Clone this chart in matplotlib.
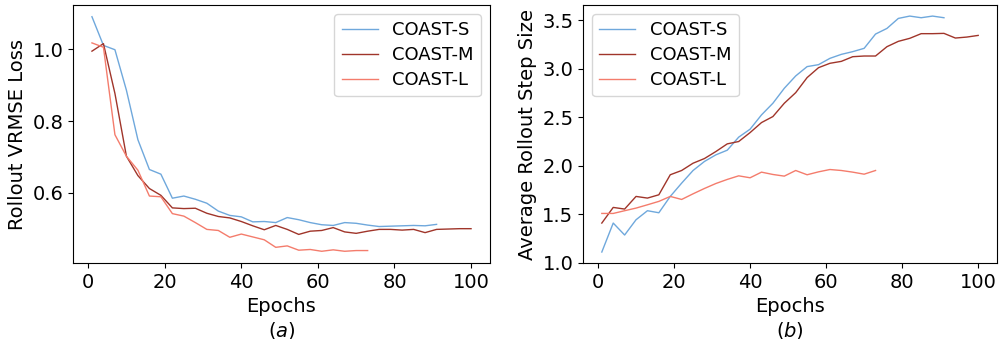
import matplotlib
matplotlib.use("Agg")
import matplotlib.pyplot as plt

# ----------------------------
# Data
# ----------------------------
epochs_s = list(range(1, 92, 3))
epochs_m = list(range(1, 101, 3))
epochs_l = list(range(1, 74, 3))

loss_s = [1.091, 1.011, 0.999, 0.886, 0.748, 0.665, 0.652, 0.585, 0.591, 0.582,
          0.571, 0.549, 0.537, 0.533, 0.519, 0.520, 0.517, 0.531, 0.525, 0.517,
          0.511, 0.509, 0.517, 0.515, 0.510, 0.506, 0.507, 0.508, 0.509, 0.508,
          0.512]
loss_m = [0.995, 1.016, 0.877, 0.702, 0.648, 0.612, 0.593, 0.558, 0.556, 0.557,
          0.543, 0.534, 0.530, 0.520, 0.508, 0.497, 0.509, 0.498, 0.484, 0.493,
          0.495, 0.503, 0.491, 0.487, 0.493, 0.498, 0.498, 0.496, 0.498, 0.489,
          0.498, 0.499, 0.500, 0.500]
loss_l = [1.018, 1.006, 0.762, 0.702, 0.663, 0.591, 0.589, 0.542, 0.535, 0.517,
          0.498, 0.495, 0.476, 0.485, 0.477, 0.469, 0.448, 0.452, 0.440, 0.442,
          0.437, 0.441, 0.437, 0.439, 0.439]

step_s = [1.113, 1.411, 1.288, 1.445, 1.538, 1.517, 1.685, 1.822, 1.952, 2.045,
          2.113, 2.161, 2.295, 2.377, 2.524, 2.644, 2.798, 2.925, 3.021, 3.041,
          3.106, 3.147, 3.175, 3.209, 3.356, 3.414, 3.517, 3.541, 3.524, 3.541,
          3.524]
step_m = [1.411, 1.572, 1.555, 1.685, 1.668, 1.702, 1.908, 1.952, 2.027, 2.075,
          2.147, 2.226, 2.250, 2.342, 2.445, 2.507, 2.644, 2.753, 2.908, 3.010,
          3.055, 3.075, 3.123, 3.130, 3.130, 3.226, 3.281, 3.312, 3.360, 3.360,
          3.363, 3.315, 3.325, 3.342]
step_l = [1.510, 1.510, 1.538, 1.565, 1.599, 1.634, 1.685, 1.654, 1.712, 1.767,
          1.818, 1.860, 1.897, 1.877, 1.935, 1.911, 1.894, 1.952, 1.908, 1.938,
          1.962, 1.952, 1.935, 1.914, 1.952]

labels = ["COAST-S", "COAST-M", "COAST-L"]
colors = ["#6FA8DC", "#A0352A", "#F47C6C"]

plt.rcParams["font.size"] = 14

fig = plt.figure(figsize=(10.01, 3.39), dpi=100)
W, H = 1001, 339
ax1 = fig.add_axes([73 / W, 1 - 263 / H, 417 / W, 258 / H])
ax2 = fig.add_axes([583 / W, 1 - 263 / H, 414 / W, 258 / H])

# ----------------------------
# (a) rollout loss
# ----------------------------
ax1.plot(epochs_s, loss_s, color=colors[0], lw=1, label=labels[0])
ax1.plot(epochs_m, loss_m, color=colors[1], lw=1, label=labels[1])
ax1.plot(epochs_l, loss_l, color=colors[2], lw=1, label=labels[2])
ax1.set_yticks([0.6, 0.8, 1.0])
ax1.set_xticks([0, 20, 40, 60, 80, 100])
ax1.set_ylabel("Rollout VRMSE Loss")
ax1.set_xlabel("Epochs\n$(a)$", linespacing=1.2)
ax1.legend(loc="upper right", fontsize=13, labelspacing=0.38)

# ----------------------------
# (b) rollout step size
# ----------------------------
ax2.plot(epochs_s, step_s, color=colors[0], lw=1, label=labels[0])
ax2.plot(epochs_m, step_m, color=colors[1], lw=1, label=labels[1])
ax2.plot(epochs_l, step_l, color=colors[2], lw=1, label=labels[2])
ax2.set_ylim(1.0, 3.655)
ax2.set_xticks([0, 20, 40, 60, 80, 100])
ax2.set_ylabel("Average Rollout Step Size")
ax2.set_xlabel("Epochs\n$(b)$", linespacing=1.2)
ax2.legend(loc="upper left", fontsize=13, labelspacing=0.38)

fig.savefig("out.png", dpi=100)
